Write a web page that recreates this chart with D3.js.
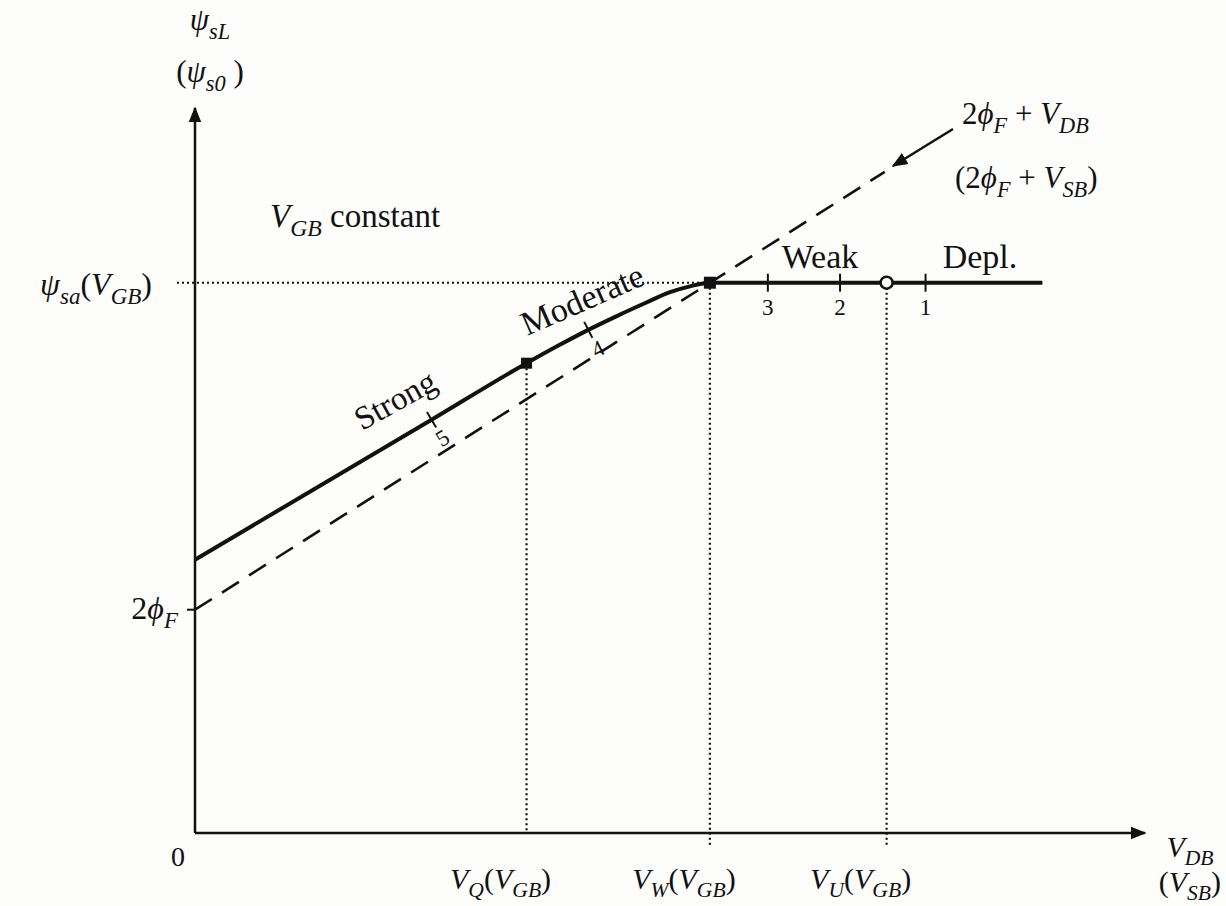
<!DOCTYPE html>
<html>
<head>
<meta charset="utf-8">
<script src="https://d3js.org/d3.v7.min.js"></script>
<style>
  body { margin: 0; background: #fdfdfb; }
  svg { display: block; }
  text { font-family: "Liberation Serif", "DejaVu Serif", serif; fill: #111; }
</style>
</head>
<body>
<svg id="chart"></svg>
<script>
// data, in abstract units (0..10 on both axes)
const solidCurve = [[0, 3.77], [2.49, 5.70], [3.49, 6.48], [3.82, 6.72], [4.14, 6.94],
                    [4.44, 7.13], [4.74, 7.31], [5.00, 7.46], [5.21, 7.54], [5.42, 7.59], [8.92, 7.59]];
const dashedLine = [[0, 3.08], [7.26, 9.12]];
const psiSa = 7.59;
const twoPhiF = 3.08;
const vNames = ["Q", "W", "U"];
const vValues = [3.49, 5.42, 7.28];
const curveTickLabels = ["5", "4"];
const curveTickPts = [[2.49, 5.70], [4.14, 6.94]];
const flatTickLabels = ["3", "2", "1"];
const flatTickX = [6.03, 6.79, 7.69];
const regionLabels = ["Strong", "Moderate", "Weak", "Depl."];

const W = 1226, H = 906;
const svg = d3.select("#chart").attr("width", W).attr("height", H);
svg.append("rect").attr("width", W).attr("height", H).attr("fill", "#fdfdfb");

const x = d3.scaleLinear().domain([0, 10]).range([195, 1145]);
const y = d3.scaleLinear().domain([0, 10]).range([833, 108]);

const defs = svg.append("defs");
defs.append("marker").attr("id", "arr").attr("viewBox", "0 0 10 10")
  .attr("refX", 9).attr("refY", 5).attr("markerWidth", 16).attr("markerHeight", 16)
  .attr("markerUnits", "userSpaceOnUse").attr("orient", "auto")
  .append("path").attr("d", "M0,1 L10,5 L0,9 Z").attr("fill", "#111");

// rich text with italic + subscripts
function rich(x0, y0, parts, size, anchor) {
  const t = svg.append("text").attr("x", x0).attr("y", y0)
    .attr("font-size", size).attr("text-anchor", anchor || "start");
  let sub = false;
  parts.forEach(p => {
    const [s, st] = p;
    const ts = t.append("tspan").text(s);
    if (st === "s") {
      ts.attr("font-size", size * 0.72).attr("font-style", "italic");
      if (!sub) ts.attr("dy", size * 0.28);
      sub = true;
    } else {
      if (sub) ts.attr("dy", -size * 0.28);
      sub = false;
      if (st === "i") ts.attr("font-style", "italic");
    }
  });
  return t;
}

// dotted guides
svg.append("line").attr("x1", x(0) - 18).attr("x2", x(vValues[1]))
  .attr("y1", y(psiSa)).attr("y2", y(psiSa))
  .attr("stroke", "#111").attr("stroke-width", 2.2).attr("stroke-dasharray", "2,3");
vValues.forEach((v, i) => {
  const top = i === 0 ? solidCurve[2][1] : psiSa;
  svg.append("line").attr("x1", x(v)).attr("x2", x(v))
    .attr("y1", y(top)).attr("y2", y(0) + (i === 0 ? 0 : 12))
    .attr("stroke", "#111").attr("stroke-width", 2.2).attr("stroke-dasharray", "2,3");
});

// axes
svg.append("line").attr("x1", x(0)).attr("y1", y(0)).attr("x2", x(0)).attr("y2", y(10))
  .attr("stroke", "#111").attr("stroke-width", 2.5).attr("marker-end", "url(#arr)");
svg.append("line").attr("x1", x(0)).attr("y1", y(0)).attr("x2", x(10)).attr("y2", y(0))
  .attr("stroke", "#111").attr("stroke-width", 2.5).attr("marker-end", "url(#arr)");
svg.append("line").attr("x1", x(0) - 8).attr("x2", x(0)).attr("y1", y(twoPhiF)).attr("y2", y(twoPhiF))
  .attr("stroke", "#111").attr("stroke-width", 2);

// dashed 2phiF + V line
svg.append("path").datum(dashedLine)
  .attr("d", d3.line().x(d => x(d[0])).y(d => y(d[1])))
  .attr("fill", "none").attr("stroke", "#111").attr("stroke-width", 2.6)
  .attr("stroke-dasharray", "20,12");

// solid surface potential curve
svg.append("path").datum(solidCurve)
  .attr("d", d3.line().x(d => x(d[0])).y(d => y(d[1])).curve(d3.curveMonotoneX))
  .attr("fill", "none").attr("stroke", "#111").attr("stroke-width", 4);

// ticks on curve
curveTickPts.forEach((p, i) => {
  const ang = i === 0 ? -31 : -27;
  const g = svg.append("g").attr("transform", `translate(${x(p[0])},${y(p[1])}) rotate(${ang})`);
  g.append("line").attr("x1", 0).attr("x2", 0).attr("y1", -9).attr("y2", 9)
    .attr("stroke", "#111").attr("stroke-width", 2);
  g.append("text").attr("x", 0).attr("y", 29).attr("font-size", 23)
    .attr("text-anchor", "middle").text(curveTickLabels[i]);
});
flatTickX.forEach((v, i) => {
  svg.append("line").attr("x1", x(v)).attr("x2", x(v)).attr("y1", y(psiSa) - 9).attr("y2", y(psiSa) + 9)
    .attr("stroke", "#111").attr("stroke-width", 2);
  svg.append("text").attr("x", x(v)).attr("y", y(psiSa) + 32).attr("font-size", 23)
    .attr("text-anchor", "middle").text(flatTickLabels[i]);
});

// markers
[0, 1].forEach(i => {
  const s = i === 0 ? 11 : 12;
  svg.append("rect").attr("x", x(vValues[i]) - s / 2)
    .attr("y", y(i === 0 ? solidCurve[2][1] : psiSa) - s / 2)
    .attr("width", s).attr("height", s).attr("fill", "#111");
});
svg.append("circle").attr("cx", x(vValues[2])).attr("cy", y(psiSa)).attr("r", 6)
  .attr("fill", "#fdfdfb").attr("stroke", "#111").attr("stroke-width", 2.5);

// region labels
svg.append("text").attr("transform", "translate(362,431) rotate(-29)")
  .attr("font-size", 33).text(regionLabels[0]);
svg.append("text").attr("transform", "translate(527,336) rotate(-23.5)")
  .attr("font-size", 34).text(regionLabels[1]);
svg.append("text").attr("x", 820).attr("y", 268).attr("font-size", 34)
  .attr("text-anchor", "middle").text(regionLabels[2]);
svg.append("text").attr("x", 980).attr("y", 268).attr("font-size", 34)
  .attr("text-anchor", "middle").text(regionLabels[3]);

// annotation arrow
svg.append("line").attr("x1", 953).attr("y1", 129).attr("x2", 893).attr("y2", 166)
  .attr("stroke", "#111").attr("stroke-width", 2.5).attr("marker-end", "url(#arr)");

// labels
rich(210, 30, [["ψ", "i"], ["sL", "s"]], 31, "middle");
rich(210, 82, [["(", "n"], ["ψ", "i"], ["s0", "s"], [" )", "n"]], 31, "middle");
rich(152, 295, [["ψ", "i"], ["sa", "s"], ["(", "n"], ["V", "i"], ["GB", "s"], [")", "n"]], 32, "end");
rich(178, 619, [["2", "n"], ["ϕ", "i"], ["F", "s"]], 32, "end");
rich(270, 227, [["V", "i"], ["GB", "s"], [" constant", "n"]], 33, "start");
rich(962, 124, [["2", "n"], ["ϕ", "i"], ["F", "s"], [" + ", "n"], ["V", "i"], ["DB", "s"]], 31, "start");
rich(955, 188, [["(2", "n"], ["ϕ", "i"], ["F", "s"], [" + ", "n"], ["V", "i"], ["SB", "s"], [")", "n"]], 31, "start");
svg.append("text").attr("x", 178).attr("y", 866).attr("font-size", 28)
  .attr("text-anchor", "middle").text("0");
vValues.forEach((v, i) => {
  rich(x(v) - 26, 889, [["V", "i"], [vNames[i], "s"], ["(", "n"], ["V", "i"], ["GB", "s"], [")", "n"]], 30, "middle");
});
rich(1190, 857, [["V", "i"], ["DB", "s"]], 30, "middle");
rich(1221, 892, [["(", "n"], ["V", "i"], ["SB", "s"], [")", "n"]], 30, "end");
</script>
</body>
</html>
